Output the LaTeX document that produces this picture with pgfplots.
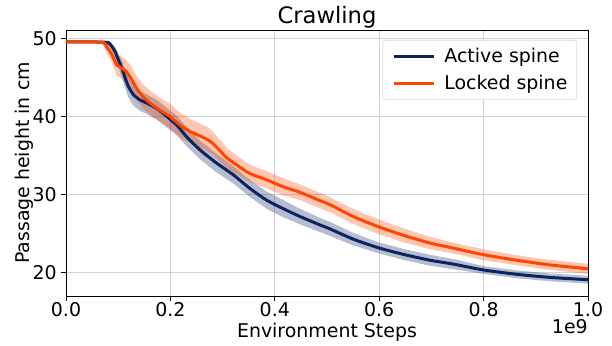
\documentclass[border=0pt]{standalone}
\usepackage{pgfplots}
\pgfplotsset{compat=1.18}
\usepackage{pgfplotstable}
\usepgfplotslibrary{fillbetween}
\usepackage{fontspec}
\setmainfont{DejaVu Sans}
\definecolor{navy}{HTML}{0B2461}
\definecolor{orng}{HTML}{FF4500}
\newcommand{\fs}{\fontsize{14.2}{17}\selectfont}
\pgfplotstableread{
x m lo hi
0 49.55 49.5 49.6
0.075 49.5 49.4 49.6
0.085 49.2 48.8 49.5
0.094 48.3 47.6 48.9
0.100 47.3 46.4 48.1
0.107 46.2 45.0 47.1
0.113 45.0 43.7 46.0
0.119 43.9 42.5 45.0
0.129 42.8 41.4 43.9
0.142 42.1 40.7 43.2
0.155 41.7 40.3 42.8
0.174 41.0 39.6 42.1
0.193 40.0 38.6 41.1
0.212 38.9 37.6 40.1
0.231 37.4 36.2 38.6
0.257 35.7 34.5 36.9
0.289 34.0 32.8 35.2
0.321 32.5 31.4 33.6
0.352 30.8 29.7 31.9
0.384 29.3 28.2 30.4
0.416 28.2 27.1 29.3
0.448 27.2 26.2 28.2
0.487 26.1 25.2 27.0
0.506 25.6 24.7 26.5
0.550 24.3 23.5 25.1
0.598 23.2 22.5 23.9
0.646 22.35 21.65 23.05
0.697 21.6 20.9 22.3
0.742 21.1 20.45 21.75
0.80 20.35 19.85 20.85
0.863 19.8 19.3 20.3
0.927 19.4 18.9 19.9
1.0 19.1 18.6 19.6
}\activetab
\pgfplotstableread{
x m lo hi
0 49.55 49.5 49.6
0.068 49.5 49.3 49.6
0.078 48.9 48.2 49.5
0.088 47.9 46.9 48.9
0.097 46.6 45.3 47.9
0.107 46.2 44.8 47.6
0.116 45.7 44.2 47.2
0.126 44.7 43.2 46.3
0.135 43.6 42.1 45.2
0.148 42.5 41.0 44.1
0.161 41.7 40.2 43.3
0.180 40.8 39.3 42.4
0.199 40.0 38.5 41.6
0.218 38.9 37.4 40.5
0.237 38.1 36.6 39.7
0.257 37.5 36.0 39.1
0.272 37.0 35.5 38.6
0.282 36.5 35.1 38.0
0.295 35.6 34.2 37.0
0.308 34.7 33.4 36.0
0.327 33.8 32.6 35.0
0.352 32.7 31.6 33.8
0.384 31.9 30.8 33.0
0.416 31.0 29.9 32.1
0.448 30.3 29.3 31.3
0.480 29.4 28.4 30.4
0.506 28.7 27.75 29.65
0.550 27.2 26.25 28.15
0.598 25.9 24.95 26.85
0.646 24.8 23.9 25.7
0.697 23.8 23.0 24.6
0.742 23.15 22.45 23.85
0.80 22.3 21.6 23.0
0.863 21.6 20.95 22.25
0.927 21.0 20.35 21.65
1.0 20.5 19.85 21.15
}\lockedtab
\begin{document}
\begin{tikzpicture}
\begin{axis}[
  name=ax, at={(0,0)}, anchor=south west,
  scale only axis, width=391.5pt, height=199.5pt,
  xmin=0, xmax=1, ymin=17.02, ymax=51.06,
  xtick={0,0.2,0.4,0.6,0.8,1.0},
  xticklabels={0.0,0.2,0.4,0.6,0.8,1.0},
  ytick={20,30,40,50},
  /pgf/number format/assume math mode=true,
  tick label style={font=\fs},
  xticklabel style={anchor=base, yshift=-12.2pt},
  label style={font=\fs},
  title style={font=\fontsize{17}{20}\selectfont, at={(axis description cs:0.5,1)}, anchor=base, yshift=-1.2pt},
  title={Crawling},
  xlabel={Environment Steps},
  ylabel={Passage height in cm},
  xlabel style={at={(axis description cs:0.5,-0.1554)}, anchor=base},
  ylabel style={at={(axis description cs:-0.069,0.5)}, anchor=base},
  grid=major, major grid style={gray!35, line width=0.7pt},
  tick align=outside, xtick pos=bottom, ytick pos=left,
  major tick length=3.5pt,
  every tick/.style={black, line width=0.6pt},
  axis line style={line width=0.6pt},
  legend style={at={(1,1)}, anchor=north east, xshift=-8.25pt, yshift=-7.5pt,
    draw=gray!30, rounded corners=2pt, font=\fs,
    row sep=4pt, inner xsep=5pt, inner ysep=4pt},
  legend cell align=left,
  legend image code/.code={\path (-2pt,0pt) (35pt,0pt); \draw[#1, line width=2.25pt] (0pt,0pt) -- (30pt,0pt);},
]
\addplot[name path=alo, draw=none, forget plot] table[x=x,y=lo]{\activetab};
\addplot[name path=ahi, draw=none, forget plot] table[x=x,y=hi]{\activetab};
\addplot[navy, fill opacity=0.3, forget plot] fill between[of=alo and ahi];
\addplot[name path=llo, draw=none, forget plot] table[x=x,y=lo]{\lockedtab};
\addplot[name path=lhi, draw=none, forget plot] table[x=x,y=hi]{\lockedtab};
\addplot[orng, fill opacity=0.3, forget plot] fill between[of=llo and lhi];
\addplot[navy, line width=2.25pt, smooth, tension=0.4] table[x=x,y=m]{\activetab};
\addlegendentry{Active spine}
\addplot[orng, line width=2.25pt, smooth, tension=0.4] table[x=x,y=m]{\lockedtab};
\addlegendentry{Locked spine}
\end{axis}
\node[anchor=base east, font=\fs, inner sep=0pt] at (391.5pt,-28pt) {1e9};
\pgfresetboundingbox
\useasboundingbox (-49.5pt,-37.5pt) rectangle (409.5pt,222pt);
\end{tikzpicture}
\end{document}
